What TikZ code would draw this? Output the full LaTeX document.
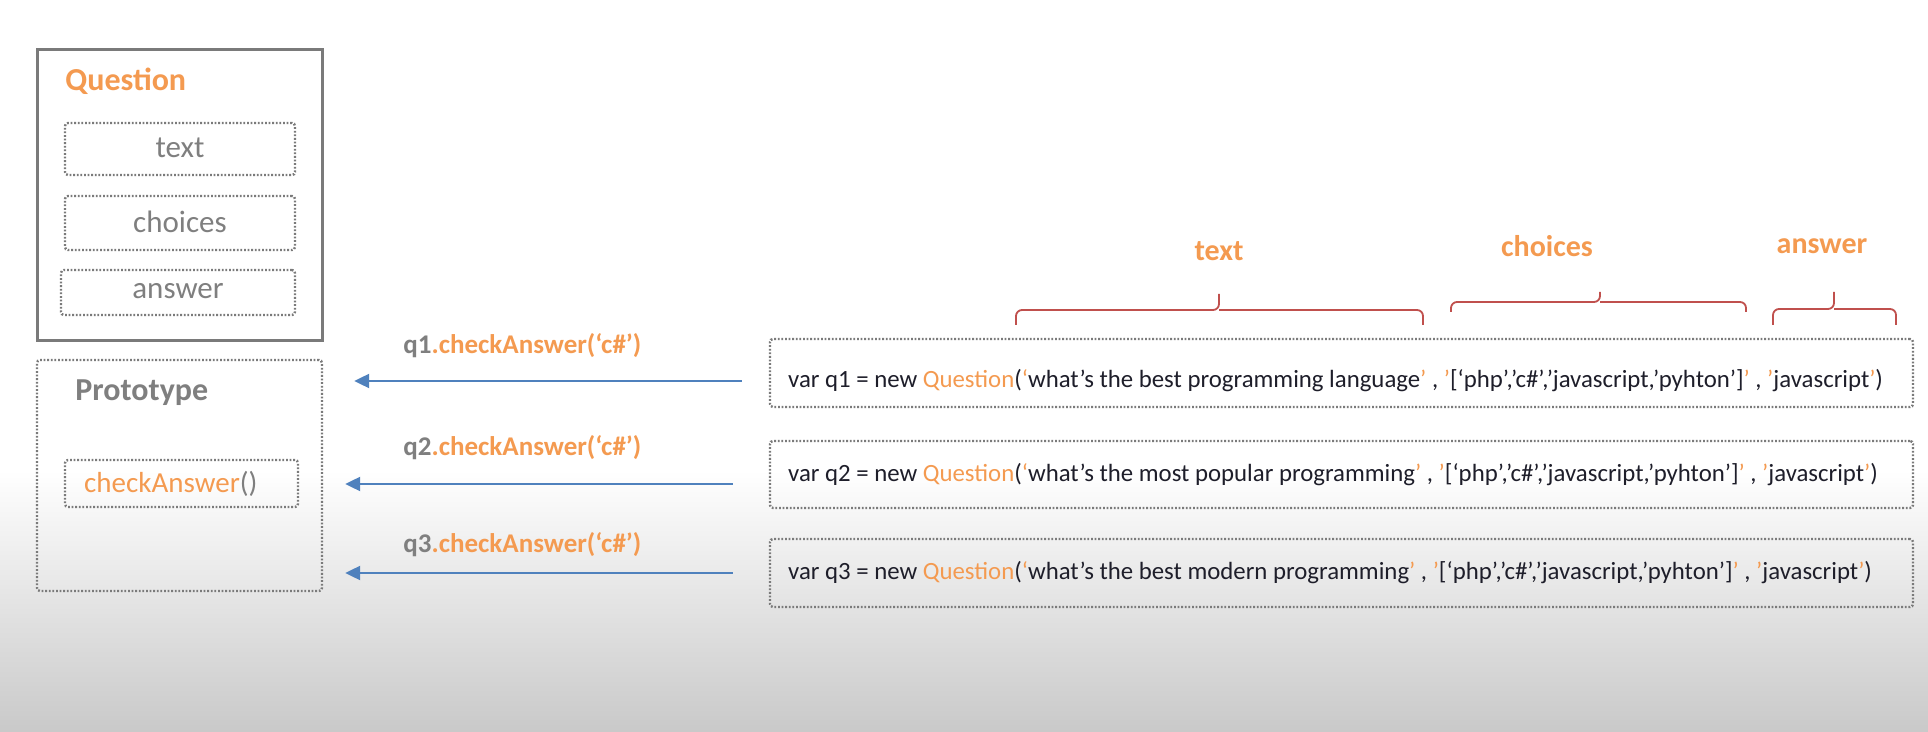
\documentclass[tikz,border=0pt]{standalone}
\usepackage{fontspec}
\setmainfont{Carlito}
\usetikzlibrary{arrows.meta,fit,calc}
\definecolor{org}{HTML}{F49A50}
\definecolor{gtx}{HTML}{7F7F7F}
\definecolor{gline}{HTML}{7A7A7A}
\definecolor{codec}{HTML}{1E1E2A}
\definecolor{arrc}{HTML}{4F81BD}
\definecolor{brcc}{HTML}{C0504D}
\definecolor{bgg}{HTML}{C9C9C9}
\newcommand{\oq}[1]{\textcolor{org}{#1}}
\tikzset{
  qframe/.style={draw=gline, line width=1.5pt, inner sep=0pt},
  dbox/.style={draw=gline, line width=1.2pt, dash pattern=on 0.9pt off 0.9pt, rounded corners=1.5pt, inner sep=0pt},
  glabel/.style={text=gtx, font=\fontsize{15.5}{18}\selectfont, inner sep=0pt},
  title/.style={font=\bfseries\fontsize{16}{19}\selectfont, inner sep=0pt, anchor=west},
  codetxt/.style={text=codec, font=\fontsize{12.4}{15}\selectfont, inner sep=0pt, anchor=west},
  calltxt/.style={font=\bfseries\fontsize{13.5}{16}\selectfont, inner sep=0pt, anchor=west},
  bracelbl/.style={text=org, font=\bfseries\fontsize{15}{18}\selectfont, inner sep=0pt},
  brc/.style={draw=brcc, line width=0.9pt, rounded corners=3pt},
  arr/.style={draw=arrc, line width=1.1pt, -{Triangle[length=7.5pt,width=7pt]}}
}
\begin{document}
\begin{tikzpicture}[x=0.5pt,y=-0.5pt]
\useasboundingbox (0,0) rectangle (1928,732);
\fill[white] (0,0) rectangle (1928,470);
\shade[top color=white, bottom color=bgg] (0,470) rectangle (1928,732);

% Question class box
\node[qframe, fit={(37,50)(322,341)}] (qbox) {};
\node[title, text=org] (qlab) at (65,81) {Question};
\node[dbox, fit={(65,123)(295,175)}] (ftext) {};
\node[dbox, fit={(65,196)(295,250)}] (fchoices) {};
\node[dbox, fit={(61,270)(295,315)}] (fanswer) {};
\node[glabel] (ltext) at ([yshift=0.5pt]ftext.center) {text};
\node[glabel] (lchoices) at ([yshift=0.5pt]fchoices.center) {choices};
\node[glabel] (lanswer) at ([yshift=0.5pt]fanswer.center) {answer};

% Prototype box
\node[dbox, fit={(37,360)(322,591)}] (proto) {};
\node[title, text=gtx] (plab) at (75,393) {Prototype};
\node[dbox, fit={(65,460)(298,507)}] (fcheck) {};
\node[inner sep=0pt, anchor=west, font=\fontsize{14.5}{17}\selectfont] (checklab) at ([xshift=10pt]fcheck.west) {\textcolor{org}{checkAnswer}\textcolor{gtx}{()}};

% code boxes
\node[dbox, fit={(770,339)(1913,407)}] (c1) {};
\node[dbox, fit={(770,441)(1913,508)}] (c2) {};
\node[dbox, fit={(770,539)(1913,607)}] (c3) {};
\node[codetxt] (t1) at ([xshift=9.5pt,yshift=-4pt]c1.west) {var q1 = new \oq{Question}(\oq{‘}what’s the best programming language\oq{’} , \oq{’}[‘php’,’c\#’,’javascript,’pyhton’]\oq{’} , \oq{’}javascript\oq{’})};
\node[codetxt] (t2) at ([xshift=9.5pt]c2.west) {var q2 = new \oq{Question}(\oq{‘}what’s the most popular programming\oq{’} , \oq{’}[‘php’,’c\#’,’javascript,’pyhton’]\oq{’} , \oq{’}javascript\oq{’})};
\node[codetxt] (t3) at ([xshift=9.5pt]c3.west) {var q3 = new \oq{Question}(\oq{‘}what’s the best modern programming\oq{’} , \oq{’}[‘php’,’c\#’,’javascript,’pyhton’]\oq{’} , \oq{’}javascript\oq{’})};

% braces
\draw[brc] (1016,325) |- (1219,310) -- (1219,294);
\draw[brc] (1423,325) |- (1219,310);
\draw[brc] (1451,312) |- (1600,302) -- (1600,292);
\draw[brc] (1746,312) |- (1600,302);
\draw[brc] (1773,325) |- (1834,309) -- (1834,292);
\draw[brc] (1896,325) |- (1834,309);
\node[bracelbl] (btext) at (1219,251) {text};
\node[bracelbl] (bchoices) at (1547,246) {choices};
\node[bracelbl] (banswer) at (1822,246) {answer};

% calls
\node[calltxt] (call1) at (403,346) {\textcolor{gtx}{q1}\textcolor{org}{.checkAnswer(‘c\#’)}};
\node[calltxt] (call2) at (403,448) {\textcolor{gtx}{q2}\textcolor{org}{.checkAnswer(‘c\#’)}};
\node[calltxt] (call3) at (403,545) {\textcolor{gtx}{q3}\textcolor{org}{.checkAnswer(‘c\#’)}};

\coordinate (s1) at ([shift={(-13.5pt,-4pt)}]c1.west);
\coordinate (s2) at ([shift={(-18pt,-4.75pt)}]c2.west);
\coordinate (s3) at ([shift={(-18pt,0pt)}]c3.west);
\draw[arr, shorten >=15.5pt] (s1) -- (s1 -| proto.east);
\draw[arr, shorten >=11pt] (s2) -- (s2 -| proto.east);
\draw[arr, shorten >=11pt] (s3) -- (s3 -| proto.east);
\end{tikzpicture}
\end{document}
